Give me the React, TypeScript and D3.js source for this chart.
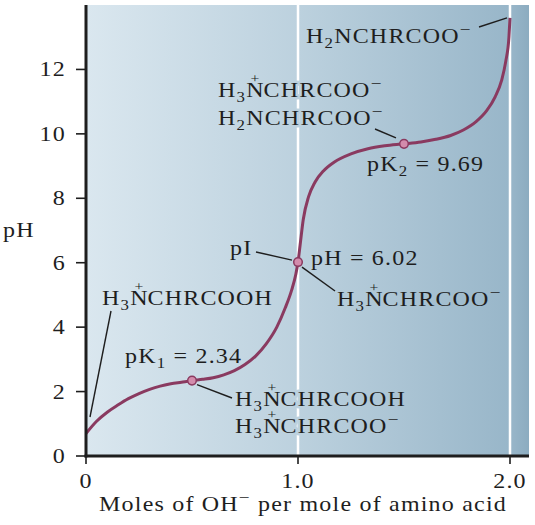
import React from 'react';
import * as d3 from 'd3';

// titration curve: moles of OH- added vs pH
const molesOH = [
  0, 0.05, 0.1, 0.15, 0.2, 0.25, 0.3, 0.35, 0.4, 0.45, 0.5, 0.55, 0.6, 0.65, 0.7, 0.75, 0.8, 0.85,
  0.9, 0.94, 0.97, 0.99, 1.0, 1.01, 1.025, 1.05, 1.08, 1.12, 1.17, 1.25, 1.33, 1.41, 1.5, 1.58,
  1.65, 1.72, 1.78, 1.84, 1.89, 1.93, 1.96, 1.98, 1.995, 2.0,
];
const pHCurve = [
  0.7, 1.08, 1.36, 1.58, 1.78, 1.94, 2.07, 2.17, 2.24, 2.29, 2.34, 2.38, 2.43, 2.52, 2.65, 2.84, 3.1, 3.48,
  4.0, 4.6, 5.15, 5.65, 6.02, 6.55, 7.35, 8.05, 8.5, 8.85, 9.12, 9.38, 9.54, 9.63, 9.69, 9.75,
  9.83, 9.95, 10.12, 10.38, 10.72, 11.15, 11.65, 12.25, 13.0, 13.6,
];

// pK1, pI, pK2
const markerMoles = [0.5, 1.0, 1.5];
const markerPH = [2.34, 6.02, 9.69];

const yTicks = [0, 2, 4, 6, 8, 10, 12];
const xTicks = [0, 1, 2];
const xTickLabels = ['0', '1.0', '2.0'];

const width = 535;
const height = 525;
const left = 86;
const right = 529;
const top = 5;
const bottom = 456;

const FONT = '"Liberation Serif", "Times New Roman", serif';
const INK = '#1e1e1e';
const CURVE = '#8a3a60';
const STRETCH = 1.2;

type Seg = [string, ('n' | 'sub' | 'sup' | 'plus')?];

// species labels
const CATION: Seg[] = [['H'], ['3', 'sub'], ['N'], ['+', 'plus'], ['CHRCOOH']];
const ZWITTERION: Seg[] = [['H'], ['3', 'sub'], ['N'], ['+', 'plus'], ['CHRCOO'], ['\u2212', 'sup']];
const ANION: Seg[] = [['H'], ['2', 'sub'], ['NCHRCOO'], ['\u2212', 'sup']];

const x = d3.scaleLinear().domain([0, (right - left) / 212]).range([left, right]);
const y = d3.scaleLinear().domain([0, 14]).range([bottom, top]);

const line = d3
  .line<number>()
  .x((d, i) => x(molesOH[i]))
  .y((d) => y(d))
  .curve(d3.curveMonotoneX);

const dots = markerMoles.map((m, i) => ({ cx: x(m), cy: y(markerPH[i]) }));

const labels: { x: number; y: number; segs: Seg[]; anchor?: string }[] = [
  { x: 306, y: 43, segs: ANION },
  { x: 218, y: 97, segs: ZWITTERION },
  { x: 218, y: 125, segs: ANION },
  { x: 367, y: 171, segs: [['pK'], ['2', 'sub'], [` = ${markerPH[2].toFixed(2)}`]] },
  { x: 230, y: 255, segs: [['pI']] },
  { x: 311, y: 265, segs: [[`pH = ${markerPH[1].toFixed(2)}`]] },
  { x: 337, y: 306, segs: ZWITTERION },
  { x: 102, y: 305, segs: CATION },
  { x: 125, y: 363, segs: [['pK'], ['1', 'sub'], [` = ${markerPH[0].toFixed(2)}`]] },
  { x: 235, y: 406, segs: CATION },
  { x: 235, y: 433, segs: ZWITTERION },
];

const leaders = [
  [479, 27, x(2) - 3, y(13.6)],
  [375, 129, dots[2].cx - 8, dots[2].cy - 6],
  [256, 252, dots[1].cx - 6, dots[1].cy - 2],
  [dots[1].cx + 4, dots[1].cy + 5, 335, 291],
  [111, 311, 90, 417],
  [dots[0].cx + 5, dots[0].cy + 4, 232, 398],
];

const Rich: React.FC<{
  x: number;
  y: number;
  segs: Seg[];
  anchor?: string;
  fill?: string;
  stroke?: string;
  sw?: number;
}> = ({ x, y, segs, anchor = 'start', fill = INK, stroke = 'none', sw = 0 }) => {
  let shift = 0;
  let pendingDx = 0;
  const spans: React.ReactNode[] = [];
  segs.forEach(([t, kind = 'n'], i) => {
    if (kind === 'plus') {
      // charge sign sitting over the preceding N
      spans.push(
        <tspan key={i} dx={-11.9} dy={-14 - shift} fontSize={13}>
          {t}
        </tspan>
      );
      shift = -14;
      pendingDx = 2.55;
      return;
    }
    const target = kind === 'sub' ? 5 : kind === 'sup' ? -8 : 0;
    const fs = kind === 'n' ? 20 : kind === 'sub' ? 14 : 16;
    spans.push(
      <tspan key={i} dx={pendingDx || undefined} dy={target - shift || undefined} fontSize={fs}>
        {t}
      </tspan>
    );
    shift = target;
    pendingDx = 0;
  });
  return (
    <text
      transform={`translate(${x},${y}) scale(${STRETCH},1)`}
      textAnchor={anchor}
      fontFamily={FONT}
      fontSize={20}
      letterSpacing={1}
      fill={fill}
      stroke={stroke}
      strokeWidth={sw}
      strokeLinejoin="round"
      style={{ whiteSpace: 'pre' }}
    >
      {spans}
    </text>
  );
};

const App: React.FC = () => {
  return (
    <svg
      width={width}
      height={height}
      style={{ position: 'absolute', left: 0, top: 0, background: '#fff' }}
    >
      <defs>
        <linearGradient id="bg" x1="0" x2="1" y1="0" y2="0">
          <stop offset="0" stopColor="#dae7ef" />
          <stop offset="0.48" stopColor="#bcd1de" />
          <stop offset="0.96" stopColor="#98b6c9" />
          <stop offset="1" stopColor="#8cacc0" />
        </linearGradient>
        <mask id="knockout" maskUnits="userSpaceOnUse" x={0} y={0} width={width} height={height}>
          <rect width={width} height={height} fill="white" />
          {labels.map((l, i) => (
            <Rich key={i} {...l} fill="black" stroke="black" sw={5} />
          ))}
        </mask>
      </defs>

      <rect x={left} y={top} width={right - left} height={bottom - top} fill="url(#bg)" />

      <g mask="url(#knockout)" stroke="#fff" strokeWidth={2.5}>
        {[1, 2].map((v) => (
          <line key={v} x1={x(v)} x2={x(v)} y1={top} y2={bottom} />
        ))}
      </g>

      <path d={line(pHCurve) ?? ''} fill="none" stroke={CURVE} strokeWidth={3} />

      <g stroke={INK} strokeWidth={1.4}>
        {leaders.map(([x1, y1, x2, y2], i) => (
          <line key={i} x1={x1} y1={y1} x2={x2} y2={y2} />
        ))}
      </g>

      {dots.map((d, i) => (
        <circle key={i} cx={d.cx} cy={d.cy} r={4.3} fill="#d38cac" stroke={CURVE} strokeWidth={1.5} />
      ))}

      {/* axes */}
      <g stroke={INK}>
        <line x1={left} x2={left} y1={top} y2={bottom + 1.5} strokeWidth={3} />
        <line x1={left - 1.5} x2={right} y1={bottom} y2={bottom} strokeWidth={3} />
        {yTicks.map((t) => (
          <line key={t} x1={left - 10} x2={left} y1={y(t)} y2={y(t)} strokeWidth={1.6} />
        ))}
        {xTicks.map((t) => (
          <line key={t} x1={x(t)} x2={x(t)} y1={bottom} y2={bottom + 8} strokeWidth={1.6} />
        ))}
      </g>

      {yTicks.map((t) => (
        <Rich key={t} x={66} y={y(t) + 7} segs={[[String(t)]]} anchor="end" />
      ))}
      {xTicks.map((t, i) => (
        <Rich key={t} x={x(t)} y={488} segs={[[xTickLabels[i]]]} anchor="middle" />
      ))}
      <Rich x={3} y={237} segs={[['pH']]} />
      <Rich
        x={303}
        y={511}
        anchor="middle"
        segs={[['Moles of OH'], ['\u2212', 'sup'], [' per mole of amino acid']]}
      />

      {labels.map((l, i) => (
        <Rich key={i} {...l} />
      ))}
    </svg>
  );
};

export default App;
